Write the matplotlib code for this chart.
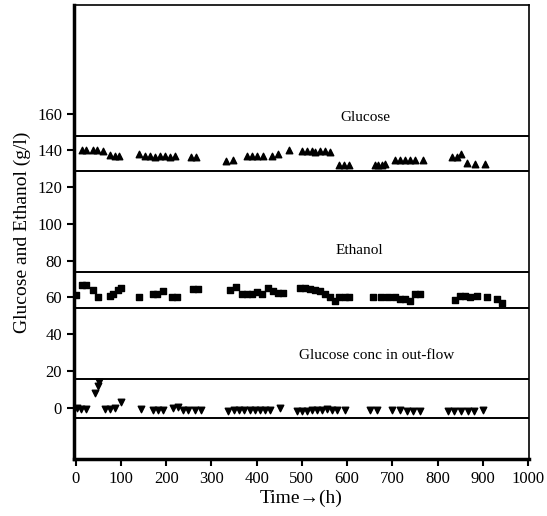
import matplotlib
matplotlib.use("Agg")
import matplotlib.pyplot as plt

plt.rcParams['font.family'] = ['Liberation Serif', 'DejaVu Serif']

# glucose in feed (triangles up)
glu_t = [14, 22, 38, 47, 60, 76, 86, 95,
         139, 153, 164, 175, 186, 197, 208, 219,
         256, 267,
         333, 348, 378, 389, 400, 414, 433, 448, 472,
         500, 511, 522, 529, 540, 551, 562,
         583, 594, 605,
         661, 668, 677, 684,
         706, 717, 728, 739, 750, 768,
         831, 842, 852, 864, 883, 905]
glu_v = [140, 140, 140, 140, 139.5, 137.5, 137, 137,
         138, 137, 137, 136.5, 137, 137, 136.5, 137,
         136.5, 136.5,
         134, 135, 137, 137, 137, 137, 137, 138, 140,
         139.5, 139.5, 139.5, 139, 139.5, 139.5, 139,
         132, 132, 132,
         132, 132, 132, 132.5,
         135, 135, 135, 135, 135, 135,
         136.5, 136.5, 138, 133, 132.5, 132.5]

# ethanol (squares)
eth_t = [0, 13, 22, 38, 49, 75, 82, 93, 101,
         141, 170, 179, 192, 212, 223, 260, 271,
         341, 355, 367, 378, 389, 400, 411, 425, 436, 448, 459,
         497, 507, 517, 528, 540, 551, 563, 573, 583, 595, 605,
         657, 676, 690, 706, 717, 728, 739, 750, 761,
         838, 850, 861, 872, 887, 909, 931, 942]
eth_v = [61.5, 67, 67, 64, 60, 61, 62, 64, 65,
         60, 62, 62, 63.5, 60.5, 60.5, 64.5, 64.5,
         64, 65.5, 62, 62, 62, 63, 62, 65, 63.5, 62.5, 62.5,
         65, 65, 64.5, 64, 63.5, 62, 60, 58, 60, 60, 60,
         60, 60, 60, 60, 59, 59, 58, 62, 62,
         58.5, 61, 61, 60, 61, 60, 59, 57]

# glucose conc in out-flow (triangles down)
out_t = [2, 12, 22, 42, 49, 52, 64, 75, 86, 101,
         145, 170, 181, 193, 215, 226, 237, 248, 263, 278,
         336, 351, 362, 373, 385, 396, 407, 418, 429, 451,
         489, 500, 511, 522, 533, 544, 555, 566, 577, 595,
         650, 666, 699, 717, 732, 746, 761,
         822, 837, 852, 867, 881, 900]
out_v = [0, -0.5, -0.5, 8, 12, 14, -0.5, -0.5, 0, 3,
         -0.5, -1, -1, -1, 0, 0.5, -1, -1, -1, -1,
         -1.5, -1, -1, -1, -1, -1, -1, -1, -1, 0,
         -1.5, -1.5, -1.5, -1, -1, -1, -0.5, -1, -1, -1,
         -1, -1, -1, -1, -1.5, -1.5, -1.5,
         -2, -2, -1.5, -1.5, -1.5, -1]

band_lines = [148, 129, 74, 54, 15.8, -5.4]

fig = plt.figure(figsize=(5.47, 5.16), dpi=100)
ax = fig.add_axes([0.135, 0.110, 0.832, 0.880])

for y in band_lines:
    ax.axhline(y, color='black', lw=1.4)

ax.scatter(glu_t, glu_v, marker='^', s=22, color='black', zorder=3)
ax.scatter(eth_t, eth_v, marker='s', s=20, color='black', zorder=3)
ax.scatter(out_t, out_v, marker='v', s=22, color='black', zorder=3)

ax.text(641, 158, "Glucose", ha='center', va='center', fontsize=11)
ax.text(628, 85.5, "Ethanol", ha='center', va='center', fontsize=11)
ax.text(666, 28.5, "Glucose conc in out-flow", ha='center', va='center', fontsize=11)

ax.set_xlim(-4, 1002)
ax.set_ylim(-28, 219)
ax.set_xticks(range(0, 1001, 100))
ax.set_yticks(range(0, 161, 20))
ax.tick_params(direction='out', length=5, width=1.5, labelsize=12)

ax.spines['left'].set_linewidth(2.5)
ax.spines['bottom'].set_linewidth(2.5)
ax.spines['top'].set_linewidth(1.2)
ax.spines['right'].set_linewidth(1.2)

ax.set_xlabel("Time\u2192(h)", fontsize=14, labelpad=2)
ax.set_ylabel("Glucose and Ethanol (g/l)", fontsize=14, labelpad=4)

plt.savefig("out.png", dpi=100)
